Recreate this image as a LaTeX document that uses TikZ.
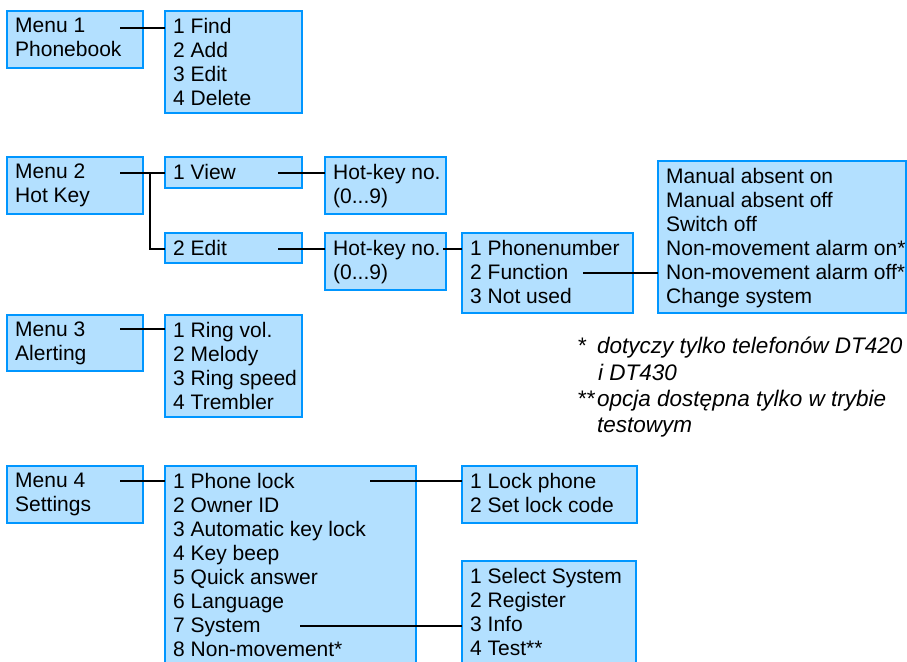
\documentclass[tikz,border=0pt]{standalone}
\usepackage{fontspec}
\setmainfont{Liberation Sans}
\usetikzlibrary{positioning}
\definecolor{boxfill}{RGB}{179,224,255}
\definecolor{boxline}{RGB}{0,150,255}

\begin{document}
\begin{tikzpicture}[
    x=1pt, y=-1pt,
    box/.style={rectangle, draw=boxline, fill=boxfill, line width=1.5pt, anchor=north west, inner sep=0pt, outer sep=0pt},
    txt/.style={anchor=north west, align=left, inner sep=0pt, font=\fontsize{21}{24}\selectfont},
    note/.style={anchor=north west, align=left, inner sep=0pt, font=\fontsize{22.5}{26.4}\selectfont\itshape},
    link/.style={draw=black, line width=1.8pt}
]
\useasboundingbox (0,0) rectangle (907,661);

% Boxes
\node[box, minimum width=136, minimum height=57] (m1) at (7,11) {};
\node[box, minimum width=137, minimum height=102] (m1s) at (165,11) {};
\node[box, minimum width=136, minimum height=57] (m2) at (7,157) {};
\node[box, minimum width=137, minimum height=31] (v1) at (165,157) {};
\node[box, minimum width=121, minimum height=57] (hk1) at (325,157) {};
\node[box, minimum width=137, minimum height=30] (e2) at (165,233) {};
\node[box, minimum width=121, minimum height=57] (hk2) at (325,233) {};
\node[box, minimum width=171, minimum height=80] (pn) at (462,233) {};
\node[box, minimum width=248, minimum height=152] (fn) at (658,161) {};
\node[box, minimum width=136, minimum height=56] (m3) at (7,315) {};
\node[box, minimum width=137, minimum height=102] (m3s) at (165,315) {};
\node[box, minimum width=136, minimum height=57] (m4) at (7,466) {};
\node[box, minimum width=251, minimum height=210] (m4s) at (165,466) {};
\node[box, minimum width=175, minimum height=57] (lock) at (462,466) {};
\node[box, minimum width=174, minimum height=110] (sys) at (462,561) {};

% Texts
\node[txt] (m1t) at ([shift={(8,7)}]m1.north west) {Menu 1\\Phonebook};
\node[txt] (m1st) at ([shift={(8,7)}]m1s.north west) {1 Find\\2 Add\\3 Edit\\4 Delete};
\node[txt] (m2t) at ([shift={(8,7)}]m2.north west) {Menu 2\\Hot Key};
\node[txt] (v1t) at ([shift={(8,7)}]v1.north west) {1 View};
\node[txt] (hk1t) at ([shift={(8,7)}]hk1.north west) {Hot-key no.\\(0...9)};
\node[txt] (e2t) at ([shift={(8,7)}]e2.north west) {2 Edit};
\node[txt] (hk2t) at ([shift={(8,7)}]hk2.north west) {Hot-key no.\\(0...9)};
\node[txt] (pnt) at ([shift={(8,7)}]pn.north west) {1 Phonenumber\\2 Function\\3 Not used};
\node[txt] (fnt) at ([shift={(8,7)}]fn.north west) {Manual absent on\\Manual absent off\\Switch off\\Non-movement alarm on*\\Non-movement alarm off*\\Change system};
\node[txt] (m3t) at ([shift={(8,7)}]m3.north west) {Menu 3\\Alerting};
\node[txt] (m3st) at ([shift={(8,7)}]m3s.north west) {1 Ring vol.\\2 Melody\\3 Ring speed\\4 Trembler};
\node[txt] (m4t) at ([shift={(8,7)}]m4.north west) {Menu 4\\Settings};
\node[txt] (m4st) at ([shift={(8,7)}]m4s.north west) {1 Phone lock\\2 Owner ID\\3 Automatic key lock\\4 Key beep\\5 Quick answer\\6 Language\\7 System\\8 Non-movement*};
\node[txt] (lockt) at ([shift={(8,7)}]lock.north west) {1 Lock phone\\2 Set lock code};
\node[txt] (syst) at ([shift={(8,7)}]sys.north west) {1 Select System\\2 Register\\3 Info\\4 Test**};
\node[note] (notes) at (577,337) {\makebox[20pt][l]{*}dotyczy tylko telefonów DT420\\\hspace*{21pt}i DT430\\\makebox[20pt][l]{**}opcja dostępna tylko w trybie\\\hspace*{20pt}testowym};

% Edges
\coordinate (m1o) at (120,28);
\coordinate (m2o) at (120,173);
\coordinate (m2b) at (150,173);
\coordinate (v1o) at (278,173);
\coordinate (e2o) at (278,249);
\coordinate (hk2o) at (443,249);
\coordinate (pno) at (583,273);
\coordinate (m3o) at (120,329);
\coordinate (m4o) at (120,481);
\coordinate (m4a) at (370,481);
\coordinate (m4b) at (300,626);
\draw[link] (m1o) -- (m1s.west |- m1o);
\draw[link] (m2o) -- (v1.west |- m2o);
\draw[link] (m2b) |- (e2.west |- e2o);
\draw[link] (v1o) -- (hk1.west |- v1o);
\draw[link] (e2o) -- (hk2.west |- e2o);
\draw[link] (hk2o) -- (pn.west |- hk2o);
\draw[link] (pno) -- (fn.west |- pno);
\draw[link] (m3o) -- (m3s.west |- m3o);
\draw[link] (m4o) -- (m4s.west |- m4o);
\draw[link] (m4a) -- (lock.west |- m4a);
\draw[link] (m4b) -- (sys.west |- m4b);

\end{tikzpicture}
\end{document}
